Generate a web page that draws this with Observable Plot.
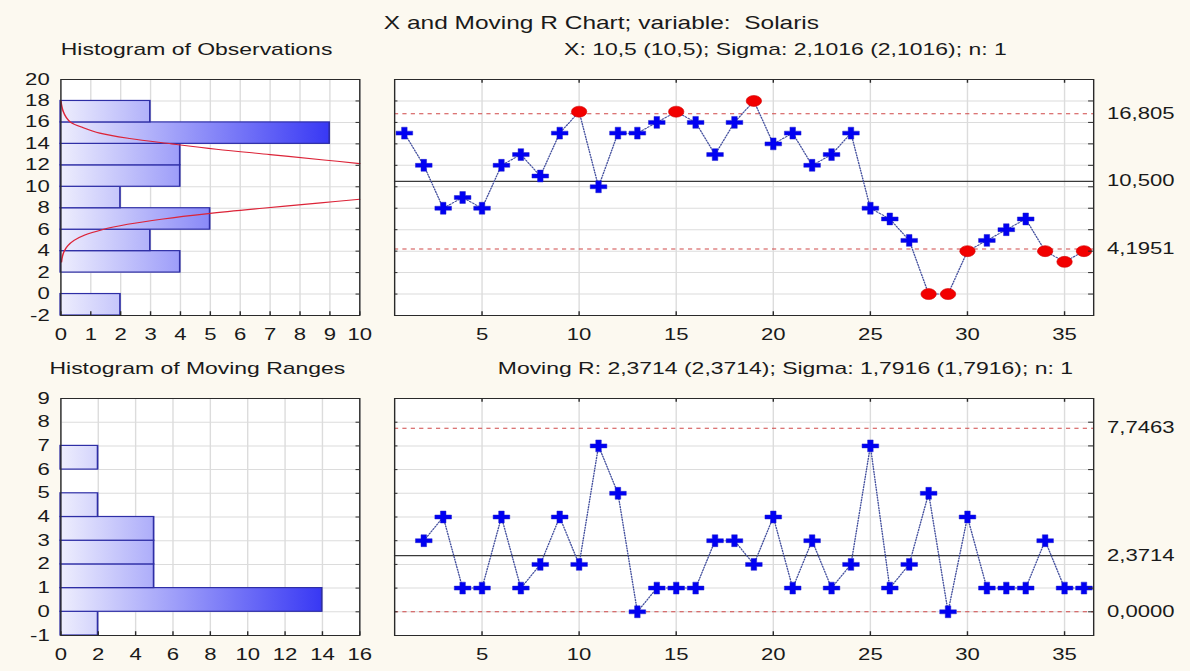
<!DOCTYPE html>
<html><head><meta charset="utf-8">
<script src="https://cdn.jsdelivr.net/npm/d3@7"></script>
<script src="https://cdn.jsdelivr.net/npm/@observablehq/plot@0.6"></script>
<style>
html,body{margin:0;padding:0;background:#fcf9f0;width:1190px;height:671px;overflow:hidden;}
#stage{position:absolute;left:0;top:0;width:850px;height:671px;transform:scaleX(1.4);transform-origin:0 0;font-family:"Liberation Sans",Arial,sans-serif;color:#1a1a1a;}
.panel{position:absolute;}
.panel svg{overflow:visible;}
</style></head><body><div id="stage"></div>
<script>
// ---------- data ----------
const chartTitle = "X and Moving R Chart; variable:  Solaris";
const obsHistTitle = "Histogram of Observations";
const xChartTitle = "X: 10,5 (10,5); Sigma: 2,1016 (2,1016); n: 1";
const mrHistTitle = "Histogram of Moving Ranges";
const mrChartTitle = "Moving R: 2,3714 (2,3714); Sigma: 1,7916 (1,7916); n: 1";

const xValues = [15,12,8,9,8,12,13,11,15,17,10,15,15,16,17,16,13,16,18,14,15,12,13,15,8,7,5,0,0,4,5,6,7,4,3,4];
const mrValues = [null,3,4,1,1,4,1,2,4,2,7,5,0,1,1,1,3,3,2,4,1,3,1,2,7,1,2,5,0,4,1,1,1,3,1,1];

const xCL = 10.5, xUCL = 16.805, xLCL = 4.1951;
const xLimitLabels = ["16,805", "10,500", "4,1951"];
const mrCL = 2.3714, mrUCL = 7.7463, mrLCL = 0;
const mrLimitLabels = ["7,7463", "2,3714", "0,0000"];

const obsBinLow  = [-2, 0, 2, 4, 6, 8, 10, 12, 14, 16];
const obsBinHigh = [ 0, 2, 4, 6, 8, 10, 12, 14, 16, 18];
const obsCounts  = [ 2, 0, 4, 3, 5, 2, 4, 4, 9, 3];

const mrBinLow  = [-1, 0, 1, 2, 3, 4, 5, 6];
const mrBinHigh = [ 0, 1, 2, 3, 4, 5, 6, 7];
const mrCounts  = [ 2, 14, 5, 5, 5, 2, 0, 2];

const curveLowY  = [3.0, 3.5, 4.0, 4.5, 5.0, 5.5, 6.0, 6.5, 7.0, 7.5, 8.0, 8.5, 8.84];
const curveLowC  = [0.02, 0.05, 0.11, 0.23, 0.44, 0.8, 1.38, 2.23, 3.42, 4.93, 6.74, 8.69, 10];
const curveHighY = [12.16, 12.5, 13.0, 13.5, 14.0, 14.5, 15.0, 15.5, 16.0, 16.5, 17.0, 17.5, 18.0];
const curveHighC = [10, 8.8, 7.0, 5.2, 3.7, 2.3, 1.3, 0.75, 0.33, 0.17, 0.08, 0.03, 0.0];

const obsHistXTicks = [0,1,2,3,4,5,6,7,8,9,10];
const obsHistYTicks = [-2,0,2,4,6,8,10,12,14,16,18,20];
const mrHistXTicks = [0,2,4,6,8,10,12,14,16];
const mrHistYTicks = [-1,0,1,2,3,4,5,6,7,8,9];
const sampleTicks = [5,10,15,20,25,30,35];

// ---------- layout ----------
const stage = document.getElementById("stage");
const FONT = "Liberation Sans, Arial, sans-serif";
const TICKFS = 15.8;
const GRID = "#dcdcdc", FRAME = "#2a2a2a";

function place(el, left, top) {
  const d = document.createElement("div");
  d.className = "panel"; d.style.left = left + "px"; d.style.top = top + "px";
  d.appendChild(el); stage.appendChild(d);
}

function addGradient(svg, id, x1, x2) {
  const ns = "http://www.w3.org/2000/svg";
  const defs = document.createElementNS(ns, "defs");
  const lg = document.createElementNS(ns, "linearGradient");
  lg.setAttribute("id", id); lg.setAttribute("gradientUnits", "userSpaceOnUse");
  lg.setAttribute("x1", x1); lg.setAttribute("x2", x2); lg.setAttribute("y1", 0); lg.setAttribute("y2", 0);
  [["0", "#eeeefd"], ["1", "#3838f4"]].forEach(([o, c]) => {
    const s = document.createElementNS(ns, "stop");
    s.setAttribute("offset", o); s.setAttribute("stop-color", c); lg.appendChild(s);
  });
  defs.appendChild(lg); svg.insertBefore(defs, svg.firstChild);
}

const baseStyle = {background: "transparent", maxWidth: "none", overflow: "visible", fontFamily: FONT, fontSize: TICKFS + "px", color: "#1a1a1a"};

function histogram({id, lows, highs, counts, xDomain, yDomain, xTicks, yTicks, curves, mt}) {
  const bars = counts.map((c, i) => ({lo: lows[i], hi: highs[i], c})).filter(d => d.c > 0);
  const xs = xDomain[1] - xDomain[0], ys = yDomain[1] - yDomain[0];
  const marks = [
    Plot.frame({fill: "white", stroke: null}),
    Plot.ruleX(xTicks, {x: d => d, stroke: GRID}),
    Plot.ruleY(yTicks, {y: d => d, stroke: GRID}),
    Plot.rectX(bars, {x1: d => 0, x2: "c", y1: "lo", y2: "hi", fill: `url(#${id})`, stroke: "#2e2ea6", strokeWidth: 1.2})
  ];
  if (curves) marks.push(Plot.line(curves, {x: "c", y: "y", z: "branch", stroke: "#dc2438", strokeWidth: 1.1, curve: "catmull-rom"}));
  marks.push(
    Plot.ruleX(xTicks, {x: d => d, y1: yDomain[0], y2: yDomain[0] + ys * 0.016, stroke: FRAME}),
    Plot.ruleY(yTicks, {y: d => d, x1: xDomain[1] - xs * 0.012, x2: xDomain[1], stroke: FRAME}),
    Plot.frame({stroke: FRAME}),
    Plot.axisY(yTicks, {anchor: "left", tickSize: 0, tickPadding: 8, tickFormat: d => String(d), fontSize: TICKFS, label: null}),
    Plot.axisX(xTicks, {anchor: "bottom", tickSize: 0, tickPadding: 13, tickFormat: d => String(d), fontSize: TICKFS, label: null})
  );
  const svg = Plot.plot({
    width: 270, height: 300, marginLeft: 43, marginRight: 13.5, marginTop: mt, marginBottom: 300 - mt - (mt === 19 ? 236 : 237),
    x: {domain: xDomain}, y: {domain: yDomain},
    style: baseStyle, marks
  });
  const sx = svg.scale("x");
  addGradient(svg, id, sx.apply(0), sx.apply(d3.max(counts)));
  return svg;
}

function controlChart({values, cl, ucl, lcl, labels, yDomain, gridY, mt}) {
  const data = values.map((v, i) => ({i: i + 1, v})).filter(d => d.v != null);
  const out = data.filter(d => d.v > ucl || d.v < lcl);
  const inn = data.filter(d => !(d.v > ucl || d.v < lcl));
  const xDomain = [0.5, 36.5];
  const xs = xDomain[1] - xDomain[0], ys = yDomain[1] - yDomain[0];
  const lab = new Map([[ucl, labels[0]], [cl, labels[1]], [lcl, labels[2]]]);
  return Plot.plot({
    width: 580, height: 300, marginLeft: 11.4, marginRight: 69.3, marginTop: mt, marginBottom: 300 - mt - (mt === 19 ? 236 : 237),
    x: {domain: xDomain}, y: {domain: yDomain},
    style: baseStyle,
    marks: [
      Plot.frame({fill: "white", stroke: null}),
      Plot.ruleX(sampleTicks, {x: d => d, stroke: GRID}),
      Plot.ruleY(gridY, {y: d => d, stroke: GRID}),
      Plot.ruleY([ucl, lcl], {y: d => d, stroke: "#d04848", strokeWidth: 1, strokeDasharray: "3,3"}),
      Plot.ruleY([cl], {y: d => d, stroke: "#3a3a3a", strokeWidth: 1.4}),
      Plot.line(data, {x: "i", y: "v", stroke: "#44509e", strokeWidth: 1, strokeDasharray: "1.2,1.4"}),
      Plot.dot(inn, {x: "i", y: "v", symbol: "cross", r: 5, fill: "#0000f2", stroke: "#2020c8", strokeWidth: 0.4}),
      Plot.dot(out, {x: "i", y: "v", r: 5.5, fill: "#f20000", stroke: "#d00000", strokeWidth: 0.5}),
      Plot.ruleX(sampleTicks, {x: d => d, y1: yDomain[0], y2: yDomain[0] + ys * 0.016, stroke: FRAME}),
      Plot.ruleX(sampleTicks, {x: d => d, y1: yDomain[1] - ys * 0.016, y2: yDomain[1], stroke: FRAME}),
      Plot.ruleY(gridY, {y: d => d, x1: xDomain[1] - xs * 0.007, x2: xDomain[1], stroke: FRAME}),
      Plot.ruleY(gridY, {y: d => d, x1: xDomain[0], x2: xDomain[0] + xs * 0.005, stroke: FRAME}),
      Plot.frame({stroke: FRAME}),
      Plot.axisY([ucl, cl, lcl], {anchor: "right", tickSize: 0, tickPadding: 9.5, tickFormat: d => lab.get(d), fontSize: TICKFS, label: null}),
      Plot.axisX(sampleTicks, {anchor: "bottom", tickSize: 0, tickPadding: 13, tickFormat: d => String(d), fontSize: TICKFS, label: null})
    ]
  });
}

// titles
{
  const ns = "http://www.w3.org/2000/svg";
  const svg = document.createElementNS(ns, "svg");
  svg.setAttribute("width", 850); svg.setAttribute("height", 671);
  svg.style.position = "absolute"; svg.style.left = "0"; svg.style.top = "0";
  const items = [
    [chartTitle, 429.6, 29, 17.5],
    [obsHistTitle, 140.4, 55, 16.4],
    [xChartTitle, 561, 55, 16.4],
    [mrHistTitle, 141, 374, 16.4],
    [mrChartTitle, 561, 374, 16.4]
  ];
  for (const [t, x, y, fs] of items) {
    const el = document.createElementNS(ns, "text");
    el.setAttribute("x", x); el.setAttribute("y", y);
    el.setAttribute("text-anchor", "middle");
    el.setAttribute("font-family", FONT); el.setAttribute("font-size", fs);
    el.setAttribute("fill", "#1a1a1a");
    el.style.whiteSpace = "pre";
    el.textContent = t;
    svg.appendChild(el);
  }
  stage.appendChild(svg);
}

const obsCurve = [
  ...curveLowY.map((y, i) => ({y, c: curveLowC[i], branch: "low"})),
  ...curveHighY.map((y, i) => ({y, c: curveHighC[i], branch: "high"}))
];

place(histogram({id: "gObs", lows: obsBinLow, highs: obsBinHigh, counts: obsCounts, xDomain: [0, 10], yDomain: [-2, 20],
  xTicks: obsHistXTicks, yTicks: obsHistYTicks, curves: obsCurve, mt: 19}), 0, 60);
place(controlChart({values: xValues, cl: xCL, ucl: xUCL, lcl: xLCL, labels: xLimitLabels, yDomain: [-2, 20],
  gridY: [0,2,4,6,8,10,12,14,16,18], mt: 19}), 270, 60);
place(histogram({id: "gMR", lows: mrBinLow, highs: mrBinHigh, counts: mrCounts, xDomain: [0, 16], yDomain: [-1, 9],
  xTicks: mrHistXTicks, yTicks: mrHistYTicks, curves: null, mt: 18}), 0, 380);
place(controlChart({values: mrValues, cl: mrCL, ucl: mrUCL, lcl: mrLCL, labels: mrLimitLabels, yDomain: [-1, 9],
  gridY: [0,1,2,3,4,5,6,7,8], mt: 18}), 270, 380);
</script></body></html>
